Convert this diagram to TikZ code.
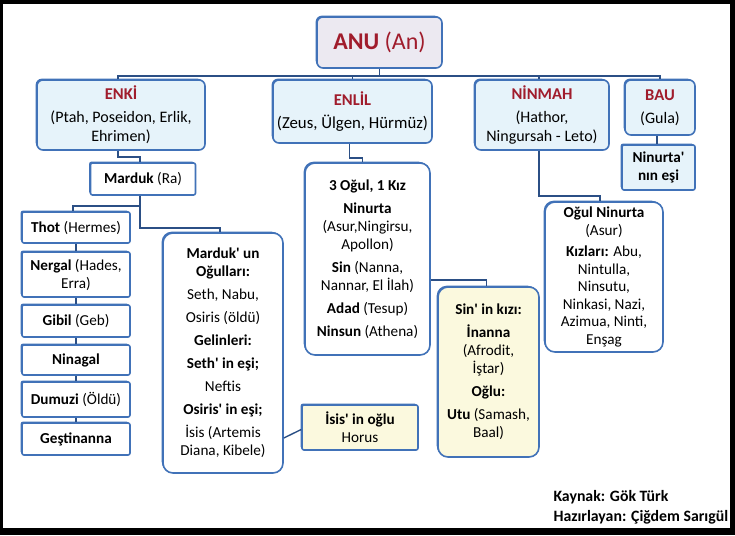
\documentclass[tikz,border=0pt]{standalone}
\usepackage{fontspec}
\setmainfont{Carlito}
\usetikzlibrary{positioning,shadows}

\definecolor{boxblue}{HTML}{4172B8}
\definecolor{linkblue}{HTML}{2B4F85}
\definecolor{titlered}{HTML}{A01C2C}
\definecolor{paleblue}{HTML}{E6F3FA}
\definecolor{anufill}{HTML}{ECE9F1}
\definecolor{paleyellow}{HTML}{FBF9DE}

\newcommand{\godname}[1]{{\color{titlered}\bfseries\fontsize{16.5}{19}\selectfont #1}}
\newcommand{\apo}{\textquotesingle}

\tikzset{
  godbox/.style={draw=boxblue, line width=1.6pt, rounded corners=6pt, fill=paleblue,
    drop shadow={shadow xshift=-1.3pt, shadow yshift=1.3pt, fill=boxblue, opacity=1},
    align=center, inner sep=1pt, font=\fontsize{16}{19}\selectfont},
  kinbox/.style={godbox, rounded corners=2pt, fill=white, font=\fontsize{15.2}{18}\selectfont},
  bigbox/.style={kinbox, rounded corners=10pt},
  link/.style={draw=linkblue, line width=1.4pt}
}

\begin{document}
\begin{tikzpicture}[x=1pt,y=-1pt]

        \fill[black] (0,0) rectangle (735,535);
        \fill[white] (3,4) rectangle (730,528);

        % top row
        \begin{scope}[every node/.style={godbox}]
          \node[fill=anufill, minimum width=125, minimum height=51, text=titlered,
            font=\fontsize{24}{28}\selectfont] (anu) at (379.5,42.5) {\textbf{ANU} (An)};
          \node[minimum width=168, minimum height=70] (enki) at (121,115)
            {\godname{ENKİ}\\[4pt](Ptah, Poseidon, Erlik,\\Ehrimen)};
          \node[minimum width=159, minimum height=63, font=\fontsize{16.8}{19}\selectfont] (enlil) at (352.5,111.5)
            {\godname{ENLİL}\\[4pt](Zeus, Ülgen, Hürmüz)};
          \node[minimum width=134, minimum height=70] (ninmah) at (542,115)
            {\godname{NİNMAH}\\[4pt](Hathor,\\Ningursah - Leto)};
          \node[minimum width=70, minimum height=55] (bau) at (660,107.5)
            {\godname{BAU}\\[4pt](Gula)};
          \node[rounded corners=2pt, minimum width=73, minimum height=45,
            font=\fontsize{15.2}{18}\selectfont] (esi) at (658.5,167.5)
            {\textbf{Ninurta\apo}\\\textbf{nın eşi}};
        \end{scope}

        % Enki line
        \begin{scope}[every node/.style={kinbox, minimum width=108}]
          \node[minimum width=105, minimum height=32] (marduk) at (143,179) {\textbf{Marduk} (Ra)};
          \node[minimum height=31] (thot)    at (76,227.5) {\textbf{Thot} (Hermes)};
          \node[minimum height=45] (nergal)  at (76,274.5) {\textbf{Nergal} (Hades,\\Erra)};
          \node[minimum height=32] (gibil)   at (76,321)   {\textbf{Gibil} (Geb)};
          \node[minimum height=30] (ninagal) at (76,360)   {\textbf{Ninagal}};
          \node[minimum height=35] (dumuzi)  at (76,399.5) {\textbf{Dumuzi} (Öldü)};
          \node[minimum height=32] (gestin)  at (76,439)   {\textbf{Geştinanna}};
          \node[fill=paleyellow, minimum width=116, minimum height=45] (horus) at (360,427.5)
            {\textbf{İsis\apo{} in oğlu}\\Horus};
        \end{scope}

        \begin{scope}[every node/.style={bigbox}]
          \node[minimum width=120, minimum height=240] (ogullar) at (223,353)
            {\textbf{Marduk\apo{} un}\\\textbf{Oğulları:}\\[5pt]Seth, Nabu,\\[5pt]Osiris (öldü)\\[5pt]%
             \textbf{Gelinleri:}\\[5pt]\textbf{Seth\apo{} in eşi;}\\[5pt]Neftis\\[5pt]%
             \textbf{Osiris\apo{} in eşi;}\\[5pt]İsis (Artemis\\Diana, Kibele)};
          \node[minimum width=125, minimum height=192] (kiz3) at (367.5,259)
            {\textbf{3 Oğul, 1 Kız}\\[5pt]\textbf{Ninurta}\\(Asur,Ningirsu,\\Apollon)\\[5pt]%
             \textbf{Sin} (Nanna,\\Nannar, El İlah)\\[5pt]\textbf{Adad} (Tesup)\\[5pt]%
             \textbf{Ninsun} (Athena)};
          \node[fill=paleyellow, minimum width=101, minimum height=170] (inanna) at (488.5,372)
            {\textbf{Sin\apo{} in kızı:}\\[5pt]\textbf{İnanna}\\(Afrodit,\\İştar)\\[5pt]%
             \textbf{Oğlu:}\\[5pt]\textbf{Utu} (Samash,\\Baal)};
          \node[minimum width=118, minimum height=150, font=\fontsize{15.2}{17.5}\selectfont] (ogul) at (604,277)
            {\textbf{Oğul Ninurta}\\(Asur)\\[4pt]\textbf{Kızları:} Abu,\\Nintulla,\\Ninsutu,\\%
             Ninkasi, Nazi,\\Azimua, Ninti,\\Enşag};
        \end{scope}

        \begin{scope}[every node/.style={anchor=west, font=\bfseries\fontsize{15.8}{17}\selectfont}]
          \node (kaynak) at (550,497) {Kaynak: Gök Türk};
          \node (hazir)  at (550,517) {Hazırlayan: Çiğdem Sarıgül};
        \end{scope}

        % connectors
        \begin{scope}[link]
          \draw (anu.south) -- ++(0,7) coordinate (bus);
          \draw ([xshift=-3pt]enki.north) |- (bus) -| (bau.north);
          \draw (enlil.north) -- (enlil.north |- bus);
          \draw ([xshift=-3pt]ninmah.north) -- ([xshift=-3pt]ninmah.north |- bus);
          \draw ([xshift=-3pt]bau.south) -- ([xshift=-1.5pt]esi.north);
          \draw ([xshift=-3pt]enki.south) -- ++(0,6) -| ([xshift=-3pt]marduk.north);
          \draw ([xshift=-3pt]marduk.south) -- ++(0,10) -| ([xshift=-3pt]thot.north);
          \draw ([xshift=-3pt]marduk.south) -- ++(0,32) -| ([xshift=-3pt]ogullar.north);
          \draw (thot) -- (nergal);
          \draw (nergal) -- (gibil);
          \draw (gibil) -- (ninagal);
          \draw (ninagal) -- (dumuzi);
          \draw (dumuzi) -- (gestin);
          \draw ([yshift=-85pt]ogullar.east) -- ([yshift=-2pt]horus.west);
          \draw ([xshift=-3pt]enlil.south) -- ++(0,14) -| ([xshift=-5pt]kiz3.north);
          \draw ([yshift=-21pt]kiz3.east) -| ([xshift=-2pt]inanna.north);
          \draw ([xshift=-3pt]ninmah.south) -- ++(0,45) -| ([xshift=-4pt]ogul.north);
        \end{scope}

\end{tikzpicture}
\end{document}
